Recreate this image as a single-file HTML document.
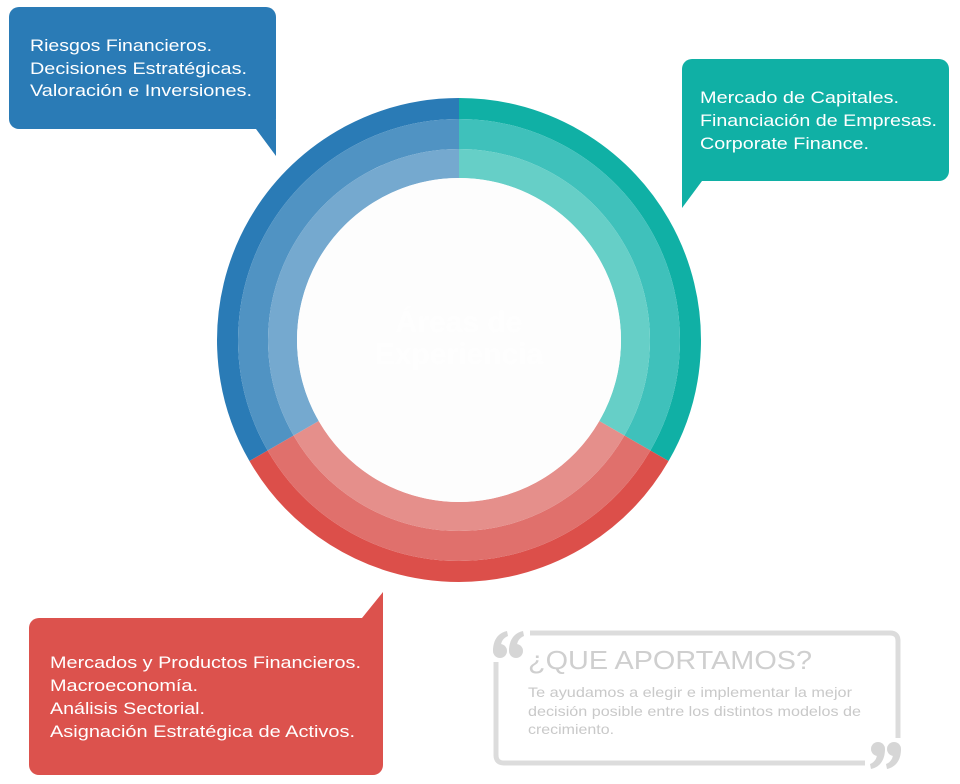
<!DOCTYPE html>
<html><head><meta charset="utf-8"><style>
html,body{margin:0;padding:0;background:#fff;}
svg{display:block;}
text{font-family:"Liberation Sans",sans-serif;}
</style></head><body>
<svg width="960" height="784" viewBox="0 0 960 784" xmlns="http://www.w3.org/2000/svg">
<g fill="none">
<path d="M459 108.5 A231.5 231.5 0 0 1 659.48 455.75" stroke="#10b0a5" stroke-width="21"/>
<path d="M659.48 455.75 A231.5 231.5 0 0 1 258.52 455.75" stroke="#dc4f4a" stroke-width="21"/>
<path d="M258.52 455.75 A231.5 231.5 0 0 1 459 108.5" stroke="#2a7bb6" stroke-width="21"/>
<path d="M459 134 A206 206 0 0 1 637.40 443" stroke="#3fc1bb" stroke-width="30"/>
<path d="M637.40 443 A206 206 0 0 1 280.60 443" stroke="#e0706c" stroke-width="30"/>
<path d="M280.60 443 A206 206 0 0 1 459 134" stroke="#5093c3" stroke-width="30"/>
<path d="M459 163.5 A176.5 176.5 0 0 1 611.85 428.25" stroke="#66cfc7" stroke-width="29"/>
<path d="M611.85 428.25 A176.5 176.5 0 0 1 306.15 428.25" stroke="#e58f8b" stroke-width="29"/>
<path d="M306.15 428.25 A176.5 176.5 0 0 1 459 163.5" stroke="#75a9cf" stroke-width="29"/>
</g>
<circle cx="459" cy="340" r="162" fill="#fdfdfd"/>
<text x="459" y="332" fill="#fefefe" font-size="30" font-weight="bold" text-anchor="middle">Áreas de</text>
<text x="459" y="364" fill="#fefefe" font-size="30" font-weight="bold" text-anchor="middle">Experiencia</text>

<rect x="9" y="7" width="267" height="122" rx="10" fill="#2a7bb6"/>
<polygon points="250,120 276,120 276,156 256,129" fill="#2a7bb6"/>
<g fill="#fff" font-size="17">
<text x="30" y="51" textLength="182" lengthAdjust="spacingAndGlyphs">Riesgos Financieros.</text>
<text x="30" y="74" textLength="217" lengthAdjust="spacingAndGlyphs">Decisiones Estratégicas.</text>
<text x="30" y="96" textLength="222" lengthAdjust="spacingAndGlyphs">Valoración e Inversiones.</text>
</g>

<rect x="682" y="59" width="267" height="122" rx="10" fill="#10b0a5"/>
<polygon points="682,170 708,170 702,181 682,208" fill="#10b0a5"/>
<g fill="#fff" font-size="17">
<text x="700" y="103" textLength="199" lengthAdjust="spacingAndGlyphs">Mercado de Capitales.</text>
<text x="700" y="126" textLength="237" lengthAdjust="spacingAndGlyphs">Financiación de Empresas.</text>
<text x="700" y="149" textLength="169" lengthAdjust="spacingAndGlyphs">Corporate Finance.</text>
</g>

<rect x="29" y="618" width="354" height="157" rx="10" fill="#dc524d"/>
<polygon points="362,618 383,592 383,630 356,630" fill="#dc524d"/>
<g fill="#fff" font-size="17">
<text x="50" y="668" textLength="311" lengthAdjust="spacingAndGlyphs">Mercados y Productos Financieros.</text>
<text x="50" y="691" textLength="148" lengthAdjust="spacingAndGlyphs">Macroeconomía.</text>
<text x="50" y="714" textLength="155" lengthAdjust="spacingAndGlyphs">Análisis Sectorial.</text>
<text x="50" y="737" textLength="305" lengthAdjust="spacingAndGlyphs">Asignación Estratégica de Activos.</text>
</g>

<g fill="none" stroke="#dcdcdc" stroke-width="5">
<path d="M530 633 H890 Q898 633 898 641 V738"/>
<path d="M865 763 H504 Q496 763 496 755 V662"/>
</g>
<g fill="#d6d6d6">
<circle cx="500" cy="651" r="7"/>
<path d="M493 651 C493 640 498 633 507 631 L508 636 C503 638 501 642 501 646 Z"/>
<circle cx="516" cy="651" r="7"/>
<path d="M509 651 C509 640 514 633 523 631 L524 636 C519 638 517 642 517 646 Z"/>
<circle cx="878" cy="749" r="7"/>
<path d="M885 749 C885 760 880 767 871 769 L870 764 C875 762 877 758 877 754 Z"/>
<circle cx="894" cy="749" r="7"/>
<path d="M901 749 C901 760 896 767 887 769 L886 764 C891 762 893 758 893 754 Z"/>
</g>
<text x="528" y="669" fill="#cfcfcf" font-size="26" textLength="284" lengthAdjust="spacingAndGlyphs">¿QUE APORTAMOS?</text>
<g fill="#c9c9c9" font-size="14">
<text x="528" y="697" textLength="324" lengthAdjust="spacingAndGlyphs">Te ayudamos a elegir e implementar  la mejor</text>
<text x="528" y="716" textLength="333" lengthAdjust="spacingAndGlyphs">decisión posible entre los distintos modelos de</text>
<text x="528" y="734" textLength="86" lengthAdjust="spacingAndGlyphs">crecimiento.</text>
</g>
</svg>
</body></html>
